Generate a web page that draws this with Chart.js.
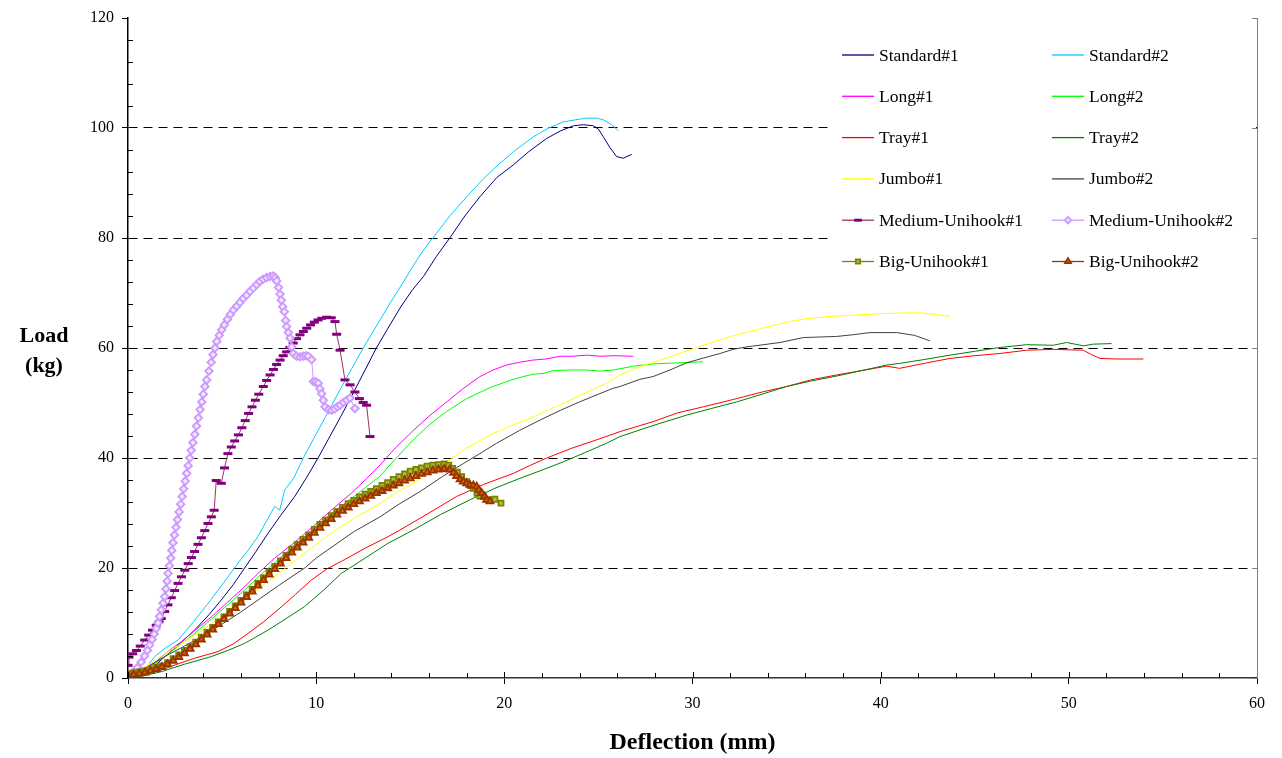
<!DOCTYPE html>
<html>
<head>
<meta charset="utf-8">
<title>Load vs Deflection</title>
<script src="https://cdn.jsdelivr.net/npm/chart.js@4.4.1/dist/chart.umd.min.js"></script>
<style>
  html, body { margin: 0; padding: 0; background: #fff; }
  #wrap { width: 1282px; height: 758px; }
</style>
</head>
<body>
<div id="wrap"><canvas id="chart" width="1282" height="758"></canvas></div>
<script>
// Load (kg) against deflection (mm)
var seriesNames = ["Standard#1", "Standard#2", "Long#1", "Long#2", "Tray#1", "Tray#2",
  "Jumbo#1", "Jumbo#2", "Medium-Unihook#1", "Medium-Unihook#2", "Big-Unihook#1", "Big-Unihook#2"];

var xTicks = [0, 10, 20, 30, 40, 50, 60];
var yTicks = [0, 20, 40, 60, 80, 100, 120];

var standard1 = [[0,0],[0.5,0.3],[1,0.9],[1.77,3.3],[2.5,5.5],[3.54,8.7],[4.3,11.5],[4.96,14.2],[5.6,17],[6.2,20],[6.8,23],[7.44,26.3],[8.1,29.5],[8.86,33],[9.5,36.5],[10.1,40],[10.63,43.3],[11.3,47.5],[12,52],[12.6,56],[13.2,60],[13.8,63.5],[14.5,67.5],[15.1,70.5],[15.7,73],[16.4,76.7],[17.1,80],[17.9,84],[18.7,87.5],[19.6,91],[20.48,93.3],[21.3,95.7],[22.25,98.1],[23,99.5],[23.67,100.4],[24.2,100.6],[24.73,100.4],[25,99.8],[25.26,98.4],[25.6,96.5],[25.97,94.8],[26.32,94.5],[26.77,95.2]];
var standard2 = [[0,0.3],[0.5,0.8],[1,2],[1.42,3.9],[2,5.5],[2.66,6.9],[3.5,10.3],[4.4,14.2],[5.1,17.4],[5.85,20.9],[6.4,23.3],[6.9,25.7],[7.4,28.8],[7.8,31.2],[8.06,30.5],[8.33,34.2],[8.8,36.3],[9.32,40],[9.83,43.3],[10.5,47.5],[11.2,52],[11.9,56.3],[12.5,60],[13.2,64],[13.9,68],[14.6,71.8],[15.2,75.2],[15.7,77.8],[16.2,80],[17.1,84],[18,87.5],[18.9,90.8],[19.77,93.6],[20.6,96],[21.54,98.4],[22.3,99.9],[23.13,101.1],[23.8,101.5],[24.38,101.8],[24.9,101.8],[25.26,101.5],[25.7,100.6],[26.06,99.5]];
var long1 = [[0,0.3],[0.5,1],[1,2],[1.5,3],[2,4.5],[2.83,6.6],[3.5,8.5],[4.43,11.1],[5.3,13.8],[6.2,16.6],[7,19.3],[7.8,21.8],[8.9,24.8],[9.92,27.8],[10.9,30.8],[11.87,33.6],[12.6,36],[13.39,38.7],[14.2,41.8],[15.16,45],[16,47.6],[16.94,50.2],[17.8,52.6],[18.7,54.8],[19.4,56],[20.1,56.9],[20.8,57.4],[21.5,57.8],[22.2,58],[22.96,58.5],[23.6,58.5],[24.38,58.7],[25.1,58.5],[25.8,58.6],[26.86,58.5]];
var long2 = [[0,0.3],[0.5,1],[1,1.9],[1.5,2.8],[2,4],[2.83,6.2],[3.5,8],[4.43,10.7],[5.3,13.3],[6.2,16],[7,18.6],[7.8,21],[8.9,24.3],[9.92,27.3],[10.9,30.2],[11.87,32.6],[12.6,34.6],[13.39,36.7],[14.2,39.8],[15.16,43.3],[16,46],[16.94,48.5],[18,50.8],[19.24,52.8],[20.2,54],[21,54.8],[21.5,55.2],[22.1,55.4],[22.6,55.9],[23.5,56],[24.38,56],[25.1,55.8],[25.8,56],[26.86,56.7],[27.9,57.1],[29.2,57.3],[30.57,57.5]];
var tray1 = [[0,0],[0.8,0.6],[1.77,1.45],[2.6,2.5],[3.54,3.6],[4.78,4.8],[5.6,6.2],[6.38,8.1],[7.2,10.2],[7.97,12.4],[8.9,15.2],[9.74,17.8],[10.6,19.9],[11.5,21.5],[12.6,23.6],[13.82,25.7],[14.45,26.9],[15.9,29.8],[17.46,33],[18.9,35.2],[20.48,37.2],[21.4,38.7],[22.25,40],[23.6,41.8],[24.9,43.3],[26.15,44.8],[27.9,46.6],[29.2,48.2],[30.57,49.3],[32.35,50.8],[33.7,52],[35,53],[36.3,54.2],[37.66,55.1],[39,55.9],[40.32,56.7],[41,56.3],[42.3,57.2],[43.68,58.1],[45,58.6],[46.34,59],[47.76,59.6],[49.17,59.75],[50.77,59.6],[51.2,58.8],[51.66,58.1],[52.5,58],[53.96,58]];
var tray2 = [[0,0],[0.8,0.4],[1.77,1.15],[3,2.5],[4.43,3.9],[5.3,5],[6.2,6.3],[7.44,8.7],[8.4,10.8],[9.39,13],[10.4,16],[11.33,19],[12.6,21.8],[13.82,24.5],[15.16,26.9],[16.6,29.7],[18.17,32.4],[19.5,34.5],[20.83,36.3],[22,37.8],[23.13,39.3],[24.3,41],[25.44,42.7],[26.15,43.9],[27.9,45.9],[29.69,47.8],[31,49],[32.35,50.2],[33.7,51.6],[35,53],[36.3,54],[37.66,54.9],[39,55.9],[40.32,56.9],[41,57.2],[42.3,57.9],[43.68,58.7],[45,59.4],[46.34,60.1],[47.76,60.6],[49.17,60.5],[49.88,61],[50.77,60.4],[51.3,60.7],[52.27,60.8]];
var jumbo1 = [[0,0.3],[1,2.2],[2,4.5],[3,6.6],[4,8.8],[5,11.2],[6,13.8],[7,16.4],[8,19],[9,21.7],[10,24.3],[11,26.8],[12,29],[13.39,31.7],[14.2,33.6],[15.16,35.4],[16,37.4],[16.94,39.3],[18,41.8],[19.24,44.2],[20.3,45.8],[21.36,47.2],[22.3,48.7],[23.31,50.2],[24.4,52],[25.44,53.6],[26.15,55.1],[27.2,56.6],[28.8,58.4],[30.57,60.5],[32.35,62.4],[33.7,63.6],[35,64.7],[36,65.3],[37.13,65.7],[38.7,66],[40.32,66.3],[42.09,66.4],[43,66.1],[43.68,65.7]];
var jumbo2 = [[0,0.3],[1,1.9],[2,4],[3,5.8],[4,7.7],[5,9.8],[6,12],[7,14.4],[8,16.8],[9.39,20],[10,21.8],[11,24.2],[12,26.6],[13.39,29.3],[14.4,31.6],[15.52,33.9],[16.7,36.6],[17.82,39],[18.7,40.8],[19.6,42.7],[20.8,45],[21.9,46.9],[23,48.7],[24,50.2],[25,51.6],[25.8,52.7],[26.15,53],[27.2,54.3],[27.9,54.8],[28.8,56],[29.69,57.3],[30.6,58.2],[31.46,59],[32.2,59.8],[32.88,60.2],[34.65,61],[35.89,61.9],[37.66,62.1],[38.5,62.4],[39.43,62.8],[40.85,62.8],[41.8,62.3],[42.62,61.3]];
var mediumUni1 = [[0,2.3],[0.05,3.8],[0.25,4.4],[0.45,5],[0.65,5.8],[0.89,6.9],[1.1,7.8],[1.3,8.7],[1.5,9.6],[1.65,10.2],[1.77,10.8],[1.95,12.1],[2.12,13.3],[2.3,14.6],[2.48,15.9],[2.66,17.2],[2.84,18.4],[3.02,19.6],[3.2,20.8],[3.37,21.9],[3.54,23],[3.72,24.3],[3.9,25.5],[4.08,26.8],[4.25,28.1],[4.43,29.3],[4.58,30.5],[4.69,35.9],[4.96,35.4],[5.13,38.2],[5.31,40.8],[5.49,42],[5.67,43.1],[5.87,44.2],[6.05,45.5],[6.23,46.8],[6.41,48.1],[6.59,49.3],[6.77,50.5],[6.95,51.6],[7.19,53],[7.37,54.1],[7.55,55.1],[7.73,56.1],[7.9,57],[8.08,57.8],[8.25,58.6],[8.43,59.3],[8.6,60.1],[8.78,60.9],[8.96,61.7],[9.14,62.4],[9.32,63],[9.5,63.6],[9.7,64.2],[9.9,64.7],[10.1,65.1],[10.3,65.4],[10.56,65.6],[10.8,65.5],[11,64.8],[11.09,62.5],[11.27,59.6],[11.53,54.2],[11.8,53.3],[12.06,52],[12.3,50.8],[12.5,50.1],[12.68,49.6],[12.86,43.9]];
var mediumUni2 = [[0,0.3],[0.25,1],[0.5,1.9],[0.7,2.9],[0.88,4],[1.03,5],[1.15,6],[1.28,7],[1.4,8],[1.5,9],[1.6,10],[1.68,11.2],[1.77,12.4],[1.86,13.6],[1.95,14.8],[2.02,16.2],[2.08,17.6],[2.13,19],[2.2,20.4],[2.27,21.8],[2.33,23.2],[2.39,24.6],[2.47,26],[2.55,27.4],[2.63,28.8],[2.72,30.2],[2.8,31.6],[2.88,33],[2.96,34.4],[3.04,35.8],[3.12,37.2],[3.2,38.6],[3.28,40],[3.36,41.4],[3.45,42.8],[3.55,44.3],[3.64,45.8],[3.74,47.3],[3.83,48.8],[3.92,50.2],[4,51.6],[4.09,53],[4.18,54.2],[4.3,55.8],[4.42,57.4],[4.52,58.8],[4.62,60],[4.72,61.2],[4.85,62.3],[4.98,63.3],[5.12,64.2],[5.28,65.2],[5.44,66.1],[5.6,66.9],[5.78,67.6],[5.95,68.3],[6.12,69],[6.3,69.6],[6.48,70.3],[6.66,70.9],[6.84,71.5],[7,72.1],[7.18,72.5],[7.36,72.8],[7.55,73],[7.72,73.1],[7.82,72.8],[7.9,72.2],[8,71],[8.08,69.8],[8.15,68.7],[8.22,67.5],[8.31,66.6],[8.38,65],[8.43,63.9],[8.52,62.8],[8.61,61.8],[8.7,60.2],[8.79,59],[8.95,58.5],[9.14,58.4],[9.3,58.5],[9.45,58.6],[9.58,58.5],[9.76,57.9],[9.85,53.9],[9.98,53.8],[10.11,53.6],[10.2,52.6],[10.29,51.7],[10.38,50.5],[10.47,49.3],[10.65,48.8],[10.82,48.7],[10.98,48.9],[11.12,49.3],[11.27,49.6],[11.45,50.1],[11.62,50.5],[11.8,50.9],[12.06,49]];
var bigUni1 = [[0,0.8],[0.3,0.9],[0.6,1.1],[0.9,1.3],[1.2,1.6],[1.5,1.9],[1.8,2.2],[2.1,2.8],[2.4,3.5],[2.7,4.2],[3,5],[3.3,5.7],[3.6,6.5],[3.9,7.4],[4.2,8.3],[4.5,9.2],[4.8,10.2],[5.1,11.1],[5.4,12.1],[5.7,13.1],[6,14.1],[6.3,15.1],[6.6,16.1],[6.9,17.2],[7.2,18.2],[7.5,19.3],[7.8,20.3],[8.1,21.3],[8.4,22.3],[8.7,23.4],[9,24.3],[9.3,25.2],[9.6,26],[9.9,27],[10.2,27.9],[10.5,28.7],[10.8,29.5],[11.1,30.3],[11.4,31],[11.7,31.7],[12,32.3],[12.3,32.9],[12.6,33.4],[12.9,33.9],[13.2,34.4],[13.5,35],[13.8,35.5],[14.1,36.1],[14.4,36.6],[14.7,37.1],[15,37.6],[15.3,37.9],[15.6,38.2],[15.9,38.5],[16.2,38.7],[16.5,38.8],[16.8,38.9],[17.05,38.7],[17.25,38.1],[17.5,37.4],[17.73,36.6],[18,35.7],[18.2,35],[18.35,34.5],[18.55,33.6],[18.7,33.1],[18.88,33],[19.15,32.4],[19.5,32.5],[19.82,31.8]];
var bigUni2 = [[0,0.4],[0.3,0.6],[0.6,0.8],[0.9,1],[1.2,1.3],[1.5,1.6],[1.8,2],[2.1,2.5],[2.4,3.1],[2.7,3.8],[3,4.5],[3.3,5.3],[3.6,6.1],[3.9,7],[4.2,7.9],[4.5,8.8],[4.8,9.8],[5.1,10.7],[5.4,11.7],[5.7,12.7],[6,13.7],[6.3,14.7],[6.6,15.7],[6.9,16.8],[7.2,17.8],[7.5,18.8],[7.8,19.8],[8.1,20.8],[8.4,21.8],[8.7,22.8],[9,23.7],[9.3,24.6],[9.6,25.5],[9.9,26.4],[10.2,27.3],[10.5,28.1],[10.8,28.9],[11.1,29.7],[11.4,30.4],[11.7,31],[12,31.6],[12.3,32.1],[12.6,32.6],[12.9,33.1],[13.2,33.6],[13.5,34],[13.8,34.5],[14.1,35],[14.4,35.4],[14.7,35.9],[15,36.3],[15.3,36.7],[15.6,37.1],[15.9,37.4],[16.2,37.7],[16.5,37.9],[16.8,38],[17.1,37.9],[17.3,37.3],[17.46,36.7],[17.65,36.1],[17.82,35.7],[18,35.4],[18.17,35.1],[18.35,35],[18.53,34.8],[18.65,34.2],[18.8,33.6],[18.95,33],[19.06,32.4],[19.24,32.1]];

var seriesData = [standard1, standard2, long1, long2, tray1, tray2, jumbo1, jumbo2,
  mediumUni1, mediumUni2, bigUni1, bigUni2];

// line colour, marker style
var lineColors = ["#000080", "#00CCFF", "#FF00FF", "#00FF00", "#FF0000", "#008000",
  "#FFFF00", "#404040", "#993366", "#CC99FF", "#808000", "#993300"];
var markers = [null, null, null, null, null, null, null, null,
  { style: "line", r: 4.5, border: "#800080", fill: "#800080", w: 3 },
  { style: "rectRot", r: 3.8, border: "#CC99FF", fill: "#F2E6FF", w: 1.8 },
  { style: "rect", r: 3.6, border: "#808000", fill: "#A8C040", w: 1.8 },
  { style: "triangle", r: 4, border: "#993300", fill: "#CC6600", w: 1.8 }];

var FONT = "'Liberation Serif', 'Times New Roman', serif";

function toPoints(arr) {
  return arr.map(function (p) { return { x: p[0], y: p[1] }; });
}

var datasets = seriesNames.map(function (name, i) {
  var m = markers[i];
  return {
    label: name,
    data: toPoints(seriesData[i]),
    borderColor: lineColors[i],
    borderWidth: 1,
    tension: 0,
    fill: false,
    order: seriesNames.length - i,
    pointStyle: m ? m.style : "circle",
    pointRadius: m ? m.r : 0,
    pointHoverRadius: m ? m.r : 0,
    pointBorderColor: m ? m.border : lineColors[i],
    pointBackgroundColor: m ? m.fill : lineColors[i],
    pointBorderWidth: m ? m.w : 0
  };
});

// minor ticks, right border, legend box and axis titles
var decorPlugin = {
  id: "decor",
  afterDraw: function (chart) {
    var ctx = chart.ctx;
    var area = chart.chartArea;
    var xs = chart.scales.x, ys = chart.scales.y;
    ctx.save();
    ctx.strokeStyle = "#000";
    ctx.lineWidth = 1;
    ctx.beginPath();
    for (var v = 0; v <= 120; v += 4) {
      if (v % 20 === 0) continue;
      var py = Math.round(ys.getPixelForValue(v)) + 0.5;
      ctx.moveTo(area.left, py); ctx.lineTo(area.left + 5, py);
    }
    for (var u = 0; u <= 60; u += 2) {
      var px = Math.round(xs.getPixelForValue(u)) + 0.5;
      ctx.moveTo(px, area.bottom); ctx.lineTo(px, area.bottom - (u % 10 === 0 ? 6 : 5));
    }
    ctx.stroke();

    // legend box
    ctx.fillStyle = "#fff";
    ctx.fillRect(829, area.top + 1, area.right - 830, 266);
    ctx.font = "17.5px " + FONT;
    ctx.textBaseline = "middle";
    ctx.textAlign = "left";
    chart.data.datasets.forEach(function (ds, i) {
      var col = i % 2, row = Math.floor(i / 2);
      var x0 = col ? 1052 : 842;
      var y = 55 + row * 41.3;
      ctx.strokeStyle = ds.borderColor;
      ctx.lineWidth = 1.3;
      ctx.beginPath(); ctx.moveTo(x0, y); ctx.lineTo(x0 + 32, y); ctx.stroke();
      var m = markers[i];
      if (m) {
        ctx.strokeStyle = m.border;
        ctx.fillStyle = m.fill;
        ctx.lineWidth = m.w;
        Chart.helpers.drawPoint(ctx, { pointStyle: m.style, radius: m.r * 0.85, rotation: 0, borderWidth: m.w }, x0 + 16, y);
      }
      ctx.fillStyle = "#000";
      ctx.fillText(ds.label, x0 + 37, y + 1);
    });

    // right border
    ctx.strokeStyle = "#808080";
    ctx.lineWidth = 1;
    ctx.beginPath();
    ctx.moveTo(area.right + 0.5, area.top); ctx.lineTo(area.right + 0.5, area.bottom);
    yTicks.forEach(function (t) {
      var py = Math.round(ys.getPixelForValue(t)) + 0.5;
      ctx.moveTo(area.right - 5, py); ctx.lineTo(area.right, py);
    });
    ctx.stroke();

    // axis titles
    ctx.fillStyle = "#000";
    ctx.font = "bold 24px " + FONT;
    ctx.textAlign = "center";
    ctx.fillText("Deflection (mm)", (area.left + area.right) / 2, 743);
    ctx.font = "bold 22px " + FONT;
    ctx.fillText("Load", 44, 336);
    ctx.fillText("(kg)", 44, 366);
    ctx.restore();
  }
};

new Chart(document.getElementById("chart").getContext("2d"), {
  type: "line",
  data: { datasets: datasets },
  plugins: [decorPlugin],
  options: {
    responsive: false,
    animation: false,
    devicePixelRatio: 1,
    layout: { padding: { top: 18, right: 25, left: 0, bottom: 0 } },
    plugins: { legend: { display: false }, tooltip: { enabled: false } },
    scales: {
      x: {
        type: "linear",
        min: 0, max: 60,
        afterFit: function (s) { s.height = 80; },
        afterBuildTicks: function (s) { s.ticks = xTicks.map(function (v) { return { value: v }; }); },
        grid: { drawOnChartArea: false, drawTicks: true, tickLength: 6, tickColor: "#000", color: "#000" },
        border: { display: true, color: "#333", width: 1.5 },
        ticks: { color: "#000", font: { family: FONT, size: 16 }, padding: 10, maxRotation: 0 }
      },
      y: {
        type: "linear",
        min: 0, max: 120,
        afterFit: function (s) { s.width = 128; },
        afterBuildTicks: function (s) { s.ticks = yTicks.map(function (v) { return { value: v }; }); },
        grid: {
          color: function (c) { return (c.tick && (c.tick.value === 0 || c.tick.value === 120)) ? "rgba(0,0,0,0)" : "#000"; },
          lineWidth: 1,
          drawTicks: true, tickLength: 6, tickColor: "#000"
        },
        border: { display: true, color: "#000", width: 1.5, dash: [9, 6] },
        ticks: { color: "#000", font: { family: FONT, size: 16 }, padding: 8 }
      }
    }
  }
});
</script>
</body>
</html>
